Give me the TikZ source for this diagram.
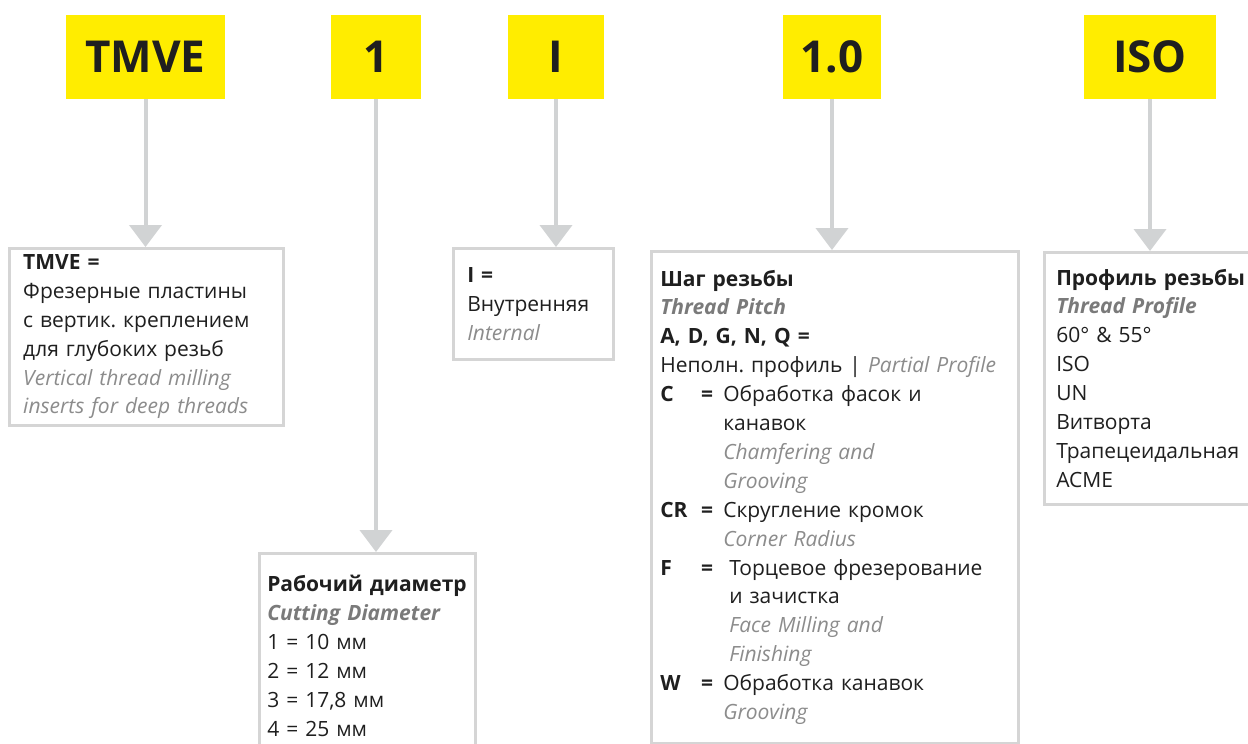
\documentclass[tikz,border=0pt]{standalone}
\usepackage{fontspec}
\setmainfont{Open Sans}
\usepackage{tikz}
\usetikzlibrary{arrows.meta}
\definecolor{codeyellow}{HTML}{FFED00}
\definecolor{linegray}{HTML}{D1D3D4}
\definecolor{framegray}{HTML}{D5D5D5}
\definecolor{engray}{HTML}{8C8C8C}
\definecolor{hdgray}{HTML}{7A7A7A}
\newcommand{\en}[1]{\textcolor{engray}{\itshape #1}}
\newcommand{\hd}[1]{\textcolor{hdgray}{\bfseries\itshape #1}}
\newcommand{\ind}{\hspace*{63pt}}
\newcommand{\key}[1]{\makebox[41pt][l]{\textbf{#1}}\makebox[22pt][l]{\textbf{=}}}
\frenchspacing

\begin{document}
\begin{tikzpicture}[x=1pt, y=-1pt,
  code/.style={fill=codeyellow, minimum height=84pt, inner sep=0pt, text=black!88,
    font=\fontsize{44}{48}\selectfont\bfseries},
  box/.style={draw=framegray, line width=2.5pt, fill=white, anchor=north west, align=left,
    inner ysep=0pt, text=black!88, font=\fontsize{21}{28.9}\selectfont},
  arr/.style={-{Triangle[width=32pt, length=22pt]}, draw=linegray, line width=4pt}]
\useasboundingbox[fill=white] (0,0) rectangle (1248,744);
% code letters
\node[code, minimum width=159pt] (tmve) at (145.5,57) {TMVE};
\node[code, minimum width=90pt] (diam) at (376,57) {1};
\node[code, minimum width=96pt] (side) at (556,57) {I};
\node[code, minimum width=98pt] (pitch) at (832,57) {1.0};
\node[code, minimum width=132pt] (prof) at (1150,57) {ISO};
% explanation boxes
\node[box, inner xsep=14pt, text width=246pt, minimum height=177pt] (tmvebox) at (8,247) {\textbf{TMVE =}\\
  Фрезерные пластины\\ с вертик. креплением\\ для глубоких резьб\\
  \en{Vertical thread milling}\\ \en{inserts for deep threads}};
\node[box, inner xsep=14pt, text width=132pt, minimum height=111pt] (sidebox) at (452,247) {\textbf{I =}\\
  Внутренняя\\ \en{Internal}};
\node[box, inner xsep=8pt, text width=200pt, minimum height=205pt] (diambox) at (258,552) {\mbox{\textbf{Рабочий диаметр}}\\
  \hd{Cutting Diameter}\\ 1 = 10 мм\\ 2 = 12 мм\\ 3 = 17,8 мм\\ 4 = 25 мм};
\node[box, inner xsep=9pt, text width=349pt, minimum height=492pt] (pitchbox) at (650,250) {\textbf{Шаг резьбы}\\
  \hd{Thread Pitch}\\ \textbf{A, D, G, N, Q =}\\ Неполн. профиль | \en{Partial Profile}\\
  \key{C}Обработка фасок и\\ \ind канавок\\ \ind\en{Chamfering and}\\ \ind\en{Grooving}\\
  \key{CR}Скругление кромок\\ \ind\en{Corner Radius}\\
  \key{F}\hspace{6pt}Торцевое фрезерование\\ \ind\hspace{6pt}и зачистка\\ \ind\hspace{6pt}\en{Face Milling and}\\ \ind\hspace{6pt}\en{Finishing}\\
  \key{W}Обработка канавок\\ \ind\en{Grooving}};
\node[box, inner xsep=12pt, text width=191pt, minimum height=252pt] (profbox) at (1043,251) {\textbf{Профиль резьбы}\\
  \hd{Thread Profile}\\ 60° \& 55°\\ ISO\\ UN\\ Витворта\\ Трапецеидальная\\ ACME};
% arrows
\foreach \u/\v in {tmve/tmvebox, diam/diambox, side/sidebox, pitch/pitchbox, prof/profbox}
  \draw[arr] (\u.south) -- (\u.south |- \v.north);
\end{tikzpicture}
\end{document}
